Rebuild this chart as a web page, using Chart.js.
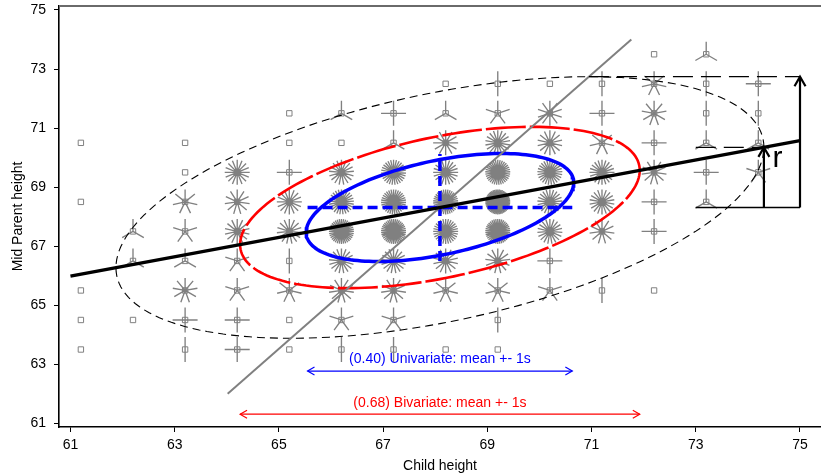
<!DOCTYPE html>
<html>
<head>
<meta charset="utf-8">
<script src="https://cdn.jsdelivr.net/npm/chart.js@4/dist/chart.umd.min.js"></script>
<style>
html,body{margin:0;padding:0;background:#fff;}
#wrap{width:821px;height:473px;position:relative;}
</style>
</head>
<body>
<div id="wrap"><canvas id="c" width="821" height="473"></canvas></div>
<script>
const childHeights  = [61.2, 62.2, 63.2, 64.2, 65.2, 66.2, 67.2, 68.2, 69.2, 70.2, 71.2, 72.2, 73.2, 74.2];
const parentHeights = [73.5, 72.5, 71.5, 70.5, 69.5, 68.5, 67.5, 66.5, 65.5, 64.5, 63.5];
const counts_73_5 = [0,0,0,0,0,0,0,0,0,0,0,1,3,0];
const counts_72_5 = [0,0,0,0,0,0,0,1,2,1,2,7,2,4];
const counts_71_5 = [0,0,0,0,1,3,4,3,5,10,4,9,2,2];
const counts_70_5 = [1,0,1,0,1,1,3,12,18,14,7,4,3,3];
const counts_69_5 = [0,0,1,16,4,17,27,20,33,25,20,11,4,5];
const counts_68_5 = [1,0,7,11,16,25,31,34,48,21,18,4,3,0];
const counts_67_5 = [0,3,5,14,15,36,38,28,38,19,11,4,0,0];
const counts_66_5 = [0,3,3,5,2,17,17,14,13,4,0,0,0,0];
const counts_65_5 = [1,0,9,5,7,11,11,7,7,5,2,1,0,0];
const counts_64_5 = [1,1,4,4,1,5,5,0,2,0,0,0,0,0];
const counts_63_5 = [1,0,2,4,1,2,2,1,1,0,0,0,0,0];
const countRows = [counts_73_5, counts_72_5, counts_71_5, counts_70_5, counts_69_5, counts_68_5,
                   counts_67_5, counts_66_5, counts_65_5, counts_64_5, counts_63_5];
const xTickValues = [61, 63, 65, 67, 69, 71, 73, 75];
const yTickValues = [61, 63, 65, 67, 69, 71, 73, 75];
const meanChild = 68.09, meanParent = 68.31;
const sdChild = 2.54, sdParent = 1.81, rho = 0.46;
const ellipseLevels = [0.40, 0.68, 0.95];
const univariateLabel = "(0.40) Univariate: mean +- 1s";
const bivariateLabel  = "(0.68) Bivariate: mean +- 1s";
const univariateArrowY = 62.77, univariateTextY = 63.18;
const bivariateArrowY  = 61.31, bivariateTextY  = 61.69;
const grayLineParentRange = [62, 74];
const regressionChildRange = [61, 75];
const rightBoxStartChild = 73.0, rightBoxEndChild = 75.0;
const rLabelPos = {x: 74.47, y: 69.68};

const radiusFor = p => Math.sqrt(-2 * Math.log(1 - p));
function ellipse(level) {
  const c = radiusFor(level), pts = [], s = Math.sqrt(1 - rho * rho);
  for (let i = 0; i <= 180; i++) {
    const t = 2 * Math.PI * i / 180;
    pts.push({x: meanChild + c * sdChild * Math.cos(t),
              y: meanParent + c * sdParent * (rho * Math.cos(t) + s * Math.sin(t))});
  }
  return pts;
}
const pointsData = [];
countRows.forEach((row, i) => row.forEach((n, j) => { if (n > 0) pointsData.push({x: childHeights[j], y: parentHeights[i]}); }));
const slopePonC = rho * sdParent / sdChild;
const slopeConP = rho * sdChild / sdParent;
const regLine = regressionChildRange.map(cx => ({x: cx, y: meanParent + slopePonC * (cx - meanChild)}));
const grayLine = grayLineParentRange.map(py => ({x: meanChild + slopeConP * (py - meanParent), y: py}));
const c95 = radiusFor(0.95), c68 = radiusFor(0.68);
const topY = meanParent + c95 * sdParent;
const topX = meanChild + c95 * rho * sdChild;
const rightX = meanChild + c95 * sdChild;
const midY = meanParent + c95 * rho * sdParent;

const GRAY = '#808080';
function lineDS(data, color, width, dash, order) {
  return {data, showLine: true, borderColor: color, backgroundColor: color, borderWidth: width,
          borderDash: dash || [], pointRadius: 0, pointHoverRadius: 0, tension: 0, fill: false, order};
}
const datasets = [
  {data: pointsData, pointStyle: 'rect', pointRadius: 3.8, pointHoverRadius: 3.8, borderColor: GRAY,
   backgroundColor: 'rgba(0,0,0,0)', pointBorderWidth: 1, showLine: false, order: 100},
  lineDS(ellipse(ellipseLevels[2]), '#000000', 1.1, [8, 5], 90),
  lineDS(ellipse(ellipseLevels[1]), '#FF0000', 2.6, [40, 4], 80),
  lineDS(ellipse(ellipseLevels[0]), '#0000FF', 3.5, [], 70),
  lineDS([{x: meanChild - sdChild, y: meanParent}, {x: meanChild + sdChild, y: meanParent}], '#0000FF', 3.5, [10, 5], 60),
  lineDS([{x: meanChild, y: meanParent - sdParent}, {x: meanChild, y: meanParent + sdParent}], '#0000FF', 3.5, [10, 5], 60),
  lineDS(grayLine, GRAY, 2, [], 50),
  lineDS(regLine, '#000000', 3.5, [], 40),
  lineDS([{x: topX, y: topY}, {x: rightBoxEndChild, y: topY}], '#000000', 1.3, [20, 8], 30),
  lineDS([{x: rightBoxStartChild, y: midY}, {x: rightX, y: midY}], '#000000', 1.3, [20, 8], 30),
  lineDS([{x: rightBoxStartChild, y: meanParent}, {x: rightBoxEndChild, y: meanParent}], '#000000', 1.3, [], 30),
  lineDS([{x: rightBoxEndChild, y: meanParent}, {x: rightBoxEndChild, y: topY}], '#000000', 2.2, [], 20),
  lineDS([{x: rightX, y: meanParent}, {x: rightX, y: midY}], '#000000', 2.2, [], 20),
  lineDS([{x: meanChild - sdChild, y: univariateArrowY}, {x: meanChild + sdChild, y: univariateArrowY}], '#0000FF', 1.2, [], 10),
  lineDS([{x: meanChild - c68 * sdChild, y: bivariateArrowY}, {x: meanChild + c68 * sdChild, y: bivariateArrowY}], '#FF0000', 1.2, [], 10)
];

const sunflowerPlugin = {
  id: 'sunflowers',
  beforeDatasetsDraw(chart) {
    const {ctx, scales: {x, y}} = chart;
    const petal = 12.5;
    ctx.save();
    ctx.strokeStyle = GRAY; ctx.lineWidth = 1.35; ctx.lineCap = 'butt';
    countRows.forEach((row, i) => row.forEach((n, j) => {
      if (n < 2) return;
      const cx = x.getPixelForValue(childHeights[j]), cy = y.getPixelForValue(parentHeights[i]);
      ctx.beginPath();
      for (let k = 1; k <= n; k++) {
        const a = 2 * Math.PI * k / n;
        ctx.moveTo(cx, cy);
        ctx.lineTo(cx + petal * Math.sin(a), cy - petal * Math.cos(a));
      }
      ctx.stroke();
    }));
    const a = chart.chartArea;
    ctx.strokeStyle = '#6a6a6a'; ctx.lineWidth = 2;
    ctx.beginPath(); ctx.moveTo(a.left, a.top); ctx.lineTo(chart.width, a.top); ctx.stroke();
    ctx.restore();
  }
};
function arrowHead(ctx, x1, y1, x2, y2, len, ang) {
  const th = Math.atan2(y2 - y1, x2 - x1);
  ctx.beginPath();
  ctx.moveTo(x2 - len * Math.cos(th - ang), y2 - len * Math.sin(th - ang));
  ctx.lineTo(x2, y2);
  ctx.lineTo(x2 - len * Math.cos(th + ang), y2 - len * Math.sin(th + ang));
  ctx.stroke();
}
const annotationPlugin = {
  id: 'annotations',
  afterDatasetsDraw(chart) {
    const {ctx, scales: {x, y}} = chart;
    const px = v => x.getPixelForValue(v), py = v => y.getPixelForValue(v);
    ctx.save();
    ctx.strokeStyle = '#0000FF'; ctx.lineWidth = 1.2;
    let l = px(meanChild - sdChild), r = px(meanChild + sdChild), yy = py(univariateArrowY);
    arrowHead(ctx, r, yy, l, yy, 8, Math.PI / 6); arrowHead(ctx, l, yy, r, yy, 8, Math.PI / 6);
    ctx.strokeStyle = '#FF0000';
    l = px(meanChild - c68 * sdChild); r = px(meanChild + c68 * sdChild); yy = py(bivariateArrowY);
    arrowHead(ctx, r, yy, l, yy, 8, Math.PI / 6); arrowHead(ctx, l, yy, r, yy, 8, Math.PI / 6);
    ctx.strokeStyle = '#000000'; ctx.lineWidth = 2.2;
    arrowHead(ctx, px(rightBoxEndChild), py(meanParent), px(rightBoxEndChild), py(topY), 11, Math.PI / 6);
    arrowHead(ctx, px(rightX), py(meanParent), px(rightX), py(midY), 11, Math.PI / 6);
    ctx.font = "14px 'Liberation Sans', Arial, sans-serif";
    ctx.textAlign = 'center'; ctx.textBaseline = 'middle';
    ctx.fillStyle = '#0000FF';
    ctx.fillText(univariateLabel, px(meanChild), py(univariateTextY));
    ctx.fillStyle = '#FF0000';
    ctx.fillText(bivariateLabel, px(meanChild), py(bivariateTextY));
    ctx.fillStyle = '#000000';
    ctx.font = "30px 'Liberation Sans', Arial, sans-serif";
    ctx.textAlign = 'left'; ctx.textBaseline = 'alphabetic';
    ctx.fillText('r', px(rLabelPos.x), py(rLabelPos.y));
    ctx.restore();
  }
};

Chart.defaults.font.family = "'Liberation Sans', Arial, Helvetica, sans-serif";
Chart.defaults.font.size = 14;
Chart.defaults.color = '#000';

const zeroPad = s => { s.paddingLeft = 0; s.paddingRight = 0; s.paddingTop = 0; s.paddingBottom = 0; };

new Chart(document.getElementById('c'), {
  type: 'scatter',
  data: {datasets},
  options: {
    responsive: false,
    animation: false,
    events: [],
    layout: {autoPadding: false, padding: {top: 6, right: 0, bottom: 0, left: 0}},
    plugins: {legend: {display: false}, tooltip: {enabled: false}},
    scales: {
      x: {
        type: 'linear', min: 60.78, max: 75.403,
        afterBuildTicks: s => { s.ticks = xTickValues.map(v => ({value: v})); },
        afterFit: s => { s.height = 46; zeroPad(s); },
        ticks: {padding: 5, color: '#000', font: {size: 14}, maxRotation: 0, autoSkip: false, callback: v => String(v)},
        grid: {drawOnChartArea: false, drawTicks: true, tickLength: 5, tickColor: '#000', tickWidth: 1},
        border: {display: true, color: '#000', width: 1.4},
        title: {display: true, text: 'Child height', font: {size: 14}, color: '#000', padding: {top: 0, bottom: -2}}
      },
      y: {
        type: 'linear', min: 60.875, max: 75.135,
        afterBuildTicks: s => { s.ticks = yTickValues.map(v => ({value: v})); },
        afterFit: s => { s.width = 59; zeroPad(s); },
        ticks: {padding: 8, color: '#000', font: {size: 14}, autoSkip: false, callback: v => String(v)},
        grid: {drawOnChartArea: false, drawTicks: true, tickLength: 5, tickColor: '#000', tickWidth: 1},
        border: {display: true, color: '#000', width: 1.6},
        title: {display: true, text: 'Mid Parent height', font: {size: 14}, color: '#000', padding: {top: 10, bottom: 0}}
      }
    }
  },
  plugins: [sunflowerPlugin, annotationPlugin]
});
</script>
</body>
</html>
